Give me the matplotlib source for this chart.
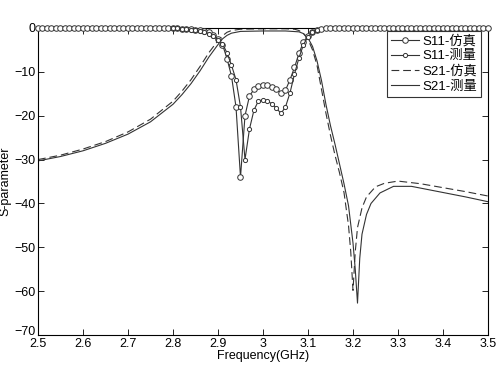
import matplotlib
matplotlib.use('Agg')
import matplotlib.pyplot as plt
import matplotlib.transforms as mtransforms
import numpy as np

plt.rcParams['font.family'] = ['Liberation Sans', 'Noto Sans CJK SC', 'DejaVu Sans']
plt.rcParams['font.size'] = 9

# S11 simulated: 2.50 .. 3.50 step 0.01
s11_sim_f = [round(2.5 + 0.01 * k, 2) for k in range(101)]
s11_sim_db = ([0.0] * 30 +
              [-0.1, -0.1, -0.2, -0.2, -0.3, -0.4, -0.5, -0.7, -0.9, -1.6,
               -2.5, -3.8, -7.0, -11.0, -18.0, -34.0, -20.0, -15.5, -14.0, -13.3,
               -12.9, -13.0, -13.4, -14.0, -14.9, -14.2, -11.8, -9.0, -5.8, -3.2,
               -1.8, -0.9, -0.4, -0.2, -0.1] +
              [0.0] * 36)

# S11 measured: 2.80 .. 3.12
s11_meas_f = [round(2.8 + 0.01 * k, 2) for k in range(33)]
s11_meas_db = [-0.1, -0.1, -0.2, -0.3, -0.4, -0.5, -0.7, -0.9, -1.3, -1.9,
               -2.7, -3.6, -5.7, -8.5, -11.8, -18.0, -30.0, -23.0, -18.7, -16.6,
               -16.4, -16.7, -17.3, -18.3, -19.5, -18.0, -14.8, -10.5, -6.8, -3.8,
               -2.0, -1.0, -0.4]

# S21 simulated
s21_sim_f = [2.50, 2.55, 2.60, 2.65, 2.70, 2.75, 2.80, 2.82, 2.84, 2.86, 2.88,
             2.90, 2.91, 2.92, 2.93, 2.95, 3.00, 3.05, 3.07, 3.08, 3.09, 3.10,
             3.11, 3.12, 3.13, 3.14, 3.15, 3.16, 3.17, 3.18, 3.19, 3.195, 3.20,
             3.205, 3.21, 3.22, 3.23, 3.25, 3.27, 3.30, 3.35, 3.40, 3.45, 3.50]
s21_sim_db = [-30.0, -29.0, -27.6, -25.9, -23.7, -20.8, -16.7, -14.4, -11.8, -8.8, -5.6,
              -2.9, -1.8, -1.0, -0.6, -0.3, -0.2, -0.2, -0.3, -0.6, -1.3, -2.6,
              -5.0, -8.5, -14.0, -19.5, -24.5, -29.0, -33.0, -37.5, -45.0, -51.0, -59.8,
              -51.0, -45.5, -41.0, -38.5, -36.2, -35.4, -34.9, -35.5, -36.4, -37.3, -38.3]

# S21 measured
s21_meas_f = [2.50, 2.55, 2.60, 2.65, 2.70, 2.75, 2.80, 2.82, 2.84, 2.86, 2.88,
              2.90, 2.91, 2.92, 2.93, 2.95, 3.00, 3.05, 3.08, 3.09, 3.10, 3.11,
              3.12, 3.13, 3.14, 3.15, 3.16, 3.17, 3.18, 3.19, 3.20, 3.205, 3.21,
              3.215, 3.22, 3.23, 3.24, 3.26, 3.29, 3.33, 3.36, 3.40, 3.45, 3.50]
s21_meas_db = [-30.3, -29.3, -28.0, -26.3, -24.2, -21.4, -17.4, -15.2, -12.7, -9.8, -6.6,
               -3.8, -2.5, -1.7, -1.2, -0.8, -0.7, -0.7, -0.9, -1.3, -2.3, -4.2,
               -7.5, -12.0, -17.5, -22.3, -26.5, -31.0, -35.5, -40.5, -49.0, -55.0, -62.7,
               -52.5, -47.0, -42.5, -40.0, -37.6, -36.1, -36.1, -36.7, -37.5, -38.5, -39.6]

fig = plt.figure(figsize=(5, 3.77), dpi=100)
ax = fig.add_axes([0.076, 0.111, 0.9, 0.815])

ax.plot(s11_sim_f, s11_sim_db, color='#333333', lw=0.8, marker='o', ms=4,
        mfc='white', mec='#333333', mew=0.7, label='S11-仿真', clip_on=False, zorder=3)
ax.plot(s11_meas_f, s11_meas_db, color='#333333', lw=0.8, marker='o', ms=3,
        mfc='white', mec='#333333', mew=0.7, label='S11-测量', clip_on=False, zorder=4)
ax.plot(s21_sim_f, s21_sim_db, color='#333333', lw=0.8, ls=(0, (7, 3.5)), label='S21-仿真')
ax.plot(s21_meas_f, s21_meas_db, color='#333333', lw=0.8, ls='-', label='S21-测量')

ax.set_xlim(2.5, 3.5)
ax.set_ylim(-70, 0)
ax.set_xticks(np.arange(2.5, 3.51, 0.1))
ax.set_xticklabels(['2.5', '2.6', '2.7', '2.8', '2.9', '3', '3.1', '3.2', '3.3', '3.4', '3.5'])
ax.set_yticks(range(-70, 1, 10))
ax.tick_params(direction='in', top=True, right=True, length=4, width=0.6, pad=2)
for s in ax.spines.values():
    s.set_linewidth(0.8)

# lift the -70 label a little so it does not run into 2.5
lbl = ax.get_yticklabels()[0]
lbl.set_transform(lbl.get_transform() + mtransforms.ScaledTranslation(0, 3 / 72, fig.dpi_scale_trans))

ax.set_xlabel('Frequency(GHz)', labelpad=0)
ax.set_ylabel('S-parameter', labelpad=2)

leg = ax.legend(loc='upper right', bbox_to_anchor=(0.985, 0.99), fancybox=False,
                framealpha=1, edgecolor='#333333', handlelength=2.1, handletextpad=0.3,
                borderpad=0.3, labelspacing=0.2, borderaxespad=0, fontsize=9.5)
leg.get_frame().set_linewidth(0.8)

fig.savefig('out.png', dpi=100)
